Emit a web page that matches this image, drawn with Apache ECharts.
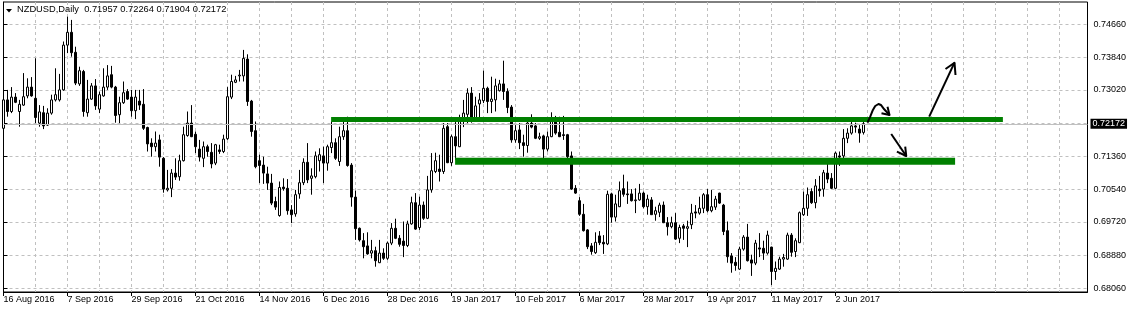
<!DOCTYPE html>
<html>
<head>
<meta charset="utf-8">
<script src="https://cdn.jsdelivr.net/npm/echarts@6/dist/echarts.min.js"></script>
<style>
html,body{margin:0;padding:0;background:#fff;}
#chart{width:1131px;height:312px;}
</style>
</head>
<body>
<div id="chart"></div>
<script>
// ---- data ----
const symbolTitle = 'NZDUSD,Daily';
const firstDate = '2016-08-16';
const totalSlots = 272; // bars + empty space on the right

const opens = [0.7206,0.7277,0.7248,0.7284,0.7248,0.7264,0.7287,0.7309,0.7281,0.7219,0.7245,0.7214,0.7244,0.7277,0.7277,0.7302,0.7414,0.7446,0.7396,0.7317,
0.7348,0.7245,0.7279,0.7312,0.7254,0.7287,0.7309,0.7340,0.7309,0.7240,0.7270,0.7298,0.7284,0.7250,0.7274,0.7266,0.7208,0.7169,0.7160,0.7177,
0.7131,0.7052,0.7056,0.7094,0.7085,0.7125,0.7188,0.7219,0.7191,0.7154,0.7131,0.7160,0.7146,0.7119,0.7152,0.7148,0.7180,0.7284,0.7321,0.7337,
0.7337,0.7379,0.7274,0.7200,0.7125,0.7114,0.7092,0.7069,0.7023,0.6988,0.7059,0.7056,0.7002,0.6992,0.7042,0.7070,0.7121,0.7081,0.7085,0.7125,
0.7137,0.7119,0.7158,0.7170,0.7123,0.7185,0.7200,0.7114,0.7034,0.6956,0.6925,0.6912,0.6894,0.6900,0.6870,0.6894,0.6881,0.6919,0.6956,0.6931,
0.6924,0.6913,0.6967,0.7020,0.6958,0.7014,0.6981,0.7052,0.7098,0.7104,0.7098,0.7210,0.7120,0.7185,0.7160,0.7227,0.7241,0.7294,0.7225,0.7267,
0.7275,0.7306,0.7273,0.7277,0.7300,0.7317,0.7298,0.7259,0.7177,0.7202,0.7170,0.7163,0.7219,0.7212,0.7181,0.7187,0.7154,0.7185,0.7227,0.7196,
0.7190,0.7190,0.7137,0.7056,0.7025,0.6991,0.6952,0.6912,0.6895,0.6937,0.6921,0.6917,0.7042,0.6984,0.7010,0.7055,0.7042,0.7042,0.7025,0.7027,
0.7044,0.7010,0.7027,0.6991,0.6996,0.7014,0.6970,0.6960,0.6970,0.6931,0.6962,0.6956,0.6965,0.6997,0.6994,0.7006,0.7040,0.7000,0.7009,0.7044,
0.7014,0.6950,0.6887,0.6871,0.6854,0.6904,0.6934,0.6877,0.6869,0.6907,0.6906,0.6894,0.6909,0.6848,0.6854,0.6879,0.6879,0.6939,0.6898,0.6920,
0.6990,0.7006,0.7048,0.7020,0.7054,0.7054,0.7094,0.7081,0.7056,0.7137,0.7137,0.7181,0.7194,0.7212,0.7204,0.71957];

const highs = [0.7302,0.7302,0.7309,0.7294,0.7277,0.7344,0.7331,0.7334,0.7381,0.7264,0.7262,0.7256,0.7290,0.7356,0.7342,0.7423,0.7485,0.7477,0.7410,0.7360,
0.7352,0.7327,0.7319,0.7329,0.7298,0.7356,0.7364,0.7362,0.7312,0.7285,0.7323,0.7304,0.7302,0.7302,0.7302,0.7304,0.7210,0.7181,0.7198,0.7190,
0.7134,0.7102,0.7104,0.7131,0.7140,0.7210,0.7248,0.7264,0.7198,0.7177,0.7173,0.7165,0.7169,0.7167,0.7165,0.7190,0.7309,0.7340,0.7337,0.7352,
0.7402,0.7391,0.7277,0.7223,0.7140,0.7135,0.7110,0.7092,0.7035,0.7073,0.7081,0.7079,0.7014,0.7052,0.7102,0.7131,0.7169,0.7106,0.7148,0.7156,
0.7160,0.7165,0.7223,0.7181,0.7210,0.7223,0.7235,0.7119,0.7050,0.6958,0.6944,0.6946,0.6927,0.6910,0.6927,0.6906,0.6923,0.6969,0.6980,0.6939,
0.6973,0.6975,0.7035,0.7044,0.7035,0.7023,0.7087,0.7144,0.7145,0.7140,0.7219,0.7219,0.7190,0.7225,0.7240,0.7277,0.7306,0.7309,0.7285,0.7294,
0.7350,0.7310,0.7335,0.7330,0.7327,0.7375,0.7306,0.7264,0.7214,0.7219,0.7190,0.7223,0.7241,0.7219,0.7195,0.7190,0.7198,0.7246,0.7237,0.7235,
0.7237,0.7192,0.7148,0.7064,0.7034,0.7017,0.6954,0.6919,0.6946,0.6949,0.6939,0.7050,0.7045,0.7040,0.7073,0.7090,0.7073,0.7054,0.7056,0.7067,
0.7048,0.7040,0.7034,0.7010,0.7020,0.7023,0.6984,0.6985,0.6994,0.6965,0.6967,0.6975,0.7017,0.7014,0.7035,0.7044,0.7054,0.7052,0.7037,0.7045,
0.7017,0.6973,0.6894,0.6884,0.6910,0.6939,0.6967,0.6890,0.6927,0.6944,0.6925,0.6950,0.6910,0.6873,0.6885,0.6892,0.6945,0.6944,0.6931,0.6998,
0.7048,0.7058,0.7056,0.7079,0.7087,0.7102,0.7121,0.7094,0.7148,0.7148,0.7204,0.7206,0.7223,0.7220,0.7217,0.72264];

const lows = [0.7198,0.7235,0.7244,0.7269,0.7210,0.7262,0.7281,0.7285,0.7219,0.7210,0.7204,0.7212,0.7240,0.7273,0.7273,0.7300,0.7394,0.7385,0.7314,0.7312,
0.7235,0.7235,0.7277,0.7252,0.7244,0.7285,0.7302,0.7306,0.7220,0.7219,0.7267,0.7277,0.7235,0.7229,0.7252,0.7202,0.7148,0.7135,0.7148,0.7110,
0.7045,0.7048,0.7034,0.7077,0.7075,0.7123,0.7185,0.7184,0.7144,0.7123,0.7109,0.7135,0.7106,0.7114,0.7142,0.7144,0.7177,0.7279,0.7319,0.7323,
0.7323,0.7262,0.7185,0.7106,0.7069,0.7067,0.7052,0.7014,0.7002,0.6985,0.7050,0.6990,0.6969,0.6985,0.7030,0.7064,0.7069,0.7040,0.7081,0.7098,
0.7069,0.7100,0.7144,0.7127,0.7112,0.7177,0.7110,0.7010,0.6927,0.6923,0.6881,0.6890,0.6881,0.6860,0.6869,0.6877,0.6877,0.6914,0.6929,0.6910,
0.6884,0.6909,0.6965,0.6952,0.6952,0.6977,0.6979,0.7045,0.7094,0.7073,0.7092,0.7119,0.7112,0.7127,0.7159,0.7209,0.7219,0.7220,0.7223,0.7231,
0.7269,0.7244,0.7244,0.7248,0.7298,0.7277,0.7244,0.7170,0.7170,0.7154,0.7135,0.7145,0.7206,0.7179,0.7177,0.7129,0.7148,0.7184,0.7190,0.7184,
0.7177,0.7120,0.7052,0.7042,0.6987,0.6948,0.6904,0.6890,0.6892,0.6914,0.6892,0.6914,0.6970,0.6973,0.7009,0.7035,0.7017,0.7023,0.6994,0.7025,
0.7006,0.6990,0.6990,0.6975,0.6984,0.6969,0.6938,0.6956,0.6927,0.6919,0.6927,0.6909,0.6954,0.6981,0.6990,0.6994,0.6996,0.6996,0.7002,0.7017,
0.6939,0.6870,0.6845,0.6850,0.6852,0.6900,0.6873,0.6837,0.6864,0.6884,0.6877,0.6890,0.6814,0.6827,0.6852,0.6860,0.6877,0.6885,0.6884,0.6919,
0.6987,0.6987,0.7017,0.7006,0.7035,0.7035,0.7069,0.7054,0.7054,0.7112,0.7123,0.7169,0.7190,0.7195,0.7170,0.71904];

const closes = [0.7277,0.7248,0.7284,0.7271,0.7266,0.7285,0.7309,0.7287,0.7233,0.7247,0.7212,0.7244,0.7277,0.7290,0.7302,0.7414,0.7446,0.7395,0.7319,0.7350,
0.7248,0.7279,0.7312,0.7262,0.7290,0.7309,0.7337,0.7309,0.7238,0.7270,0.7295,0.7279,0.7250,0.7284,0.7264,0.7206,0.7167,0.7160,0.7169,0.7134,
0.7054,0.7056,0.7094,0.7084,0.7125,0.7190,0.7219,0.7185,0.7160,0.7134,0.7160,0.7148,0.7117,0.7165,0.7148,0.7179,0.7285,0.7323,0.7327,0.7339,
0.7381,0.7273,0.7198,0.7110,0.7113,0.7094,0.7069,0.7019,0.7009,0.7058,0.7055,0.7000,0.6990,0.7040,0.7070,0.7121,0.7077,0.7087,0.7137,0.7140,
0.7119,0.7160,0.7170,0.7131,0.7185,0.7200,0.7113,0.7034,0.6955,0.6927,0.6910,0.6892,0.6900,0.6875,0.6894,0.6881,0.6919,0.6956,0.6931,0.6916,
0.6913,0.6967,0.7020,0.6954,0.7014,0.6981,0.7052,0.7100,0.7125,0.7098,0.7206,0.7120,0.7185,0.7162,0.7227,0.7244,0.7294,0.7225,0.7262,0.7277,
0.7306,0.7273,0.7279,0.7312,0.7317,0.7298,0.7258,0.7177,0.7200,0.7170,0.7163,0.7219,0.7209,0.7181,0.7185,0.7154,0.7185,0.7225,0.7194,0.7185,
0.7188,0.7135,0.7054,0.7044,0.6991,0.6950,0.6910,0.6898,0.6921,0.6920,0.6917,0.7041,0.6984,0.7017,0.7050,0.7041,0.7040,0.7025,0.7027,0.7044,
0.7010,0.7029,0.6990,0.7000,0.7014,0.6970,0.6960,0.6970,0.6929,0.6958,0.6956,0.6960,0.6994,0.6994,0.7006,0.7040,0.7000,0.7010,0.7029,0.7019,
0.6948,0.6885,0.6869,0.6863,0.6904,0.6934,0.6875,0.6869,0.6919,0.6904,0.6894,0.6939,0.6848,0.6856,0.6879,0.6883,0.6939,0.6896,0.6925,0.6995,
0.7006,0.7040,0.7020,0.7062,0.7050,0.7095,0.7079,0.7056,0.7144,0.7134,0.7181,0.7194,0.7212,0.7209,0.7194,0.72172];

// price-axis tick values (as printed on the right scale)
const yTickValues = [0.68060, 0.68880, 0.69720, 0.70540, 0.71360, 0.72180, 0.73020, 0.73840, 0.74660];
const yLabelValues = [0.68060, 0.68880, 0.69720, 0.70540, 0.71360, 0.73020, 0.73840, 0.74660];

// horizontal levels drawn on the chart: [startBar, endBar, price]
const level1 = [[81.9, 0.72283], [249.85, 0.72283]];
const level2 = [[112.9, 0.71235], [237.9, 0.71235]];

// hand-drawn arrows (bar position, price)
const arrowCurve = [[216.0,0.72200],[216.68,0.72350],[217.35,0.72518],[217.93,0.72618],[218.75,0.72668],[219.35,0.72643],[220.18,0.72535],[221.5,0.72393]];
const arrowCurveHead = [[219.5,0.72435],[221.5,0.72393],[221.0,0.72600]];
const arrowUp = [[231.43,0.72350],[237.75,0.73700]];
const arrowUpHead = [[235.5,0.73543],[237.75,0.73700],[238.0,0.73393]];
const arrowDown = [[221.93,0.71918],[225.68,0.71368]];
const arrowDownHead = [[223.35,0.71475],[225.68,0.71368],[225.43,0.71600]];

// ---- build ----
const months = ['Jan','Feb','Mar','Apr','May','Jun','Jul','Aug','Sep','Oct','Nov','Dec'];
const categories = [];
(function(){
  const p = firstDate.split('-').map(Number);
  let t = Date.UTC(p[0], p[1]-1, p[2]);
  while (categories.length < totalSlots) {
    const d = new Date(t);
    const wd = d.getUTCDay();
    if (wd !== 0 && wd !== 6) categories.push(d.getUTCDate() + ' ' + months[d.getUTCMonth()] + ' ' + d.getUTCFullYear());
    t += 86400000;
  }
})();
const lastIndex = closes.length - 1;
const ohlc = opens.map((o, i) => [o, closes[i], lows[i], highs[i]]);
const lastClose = closes[lastIndex];

const FONT = 'Liberation Sans, Arial, sans-serif';
const GRID_COLOR = '#c0c0c0';

const chart = echarts.init(document.getElementById('chart'), null, {renderer: 'canvas'});

function lineSeries(data, color, width, z) {
  return {
    type: 'line', xAxisIndex: 1, yAxisIndex: 0, data: data,
    symbol: 'none', showSymbol: false, silent: true, animation: false, clip: false,
    lineStyle: {color: color, width: width, cap: 'butt', join: 'round'},
    z: z
  };
}

chart.setOption({
  animation: false,
  backgroundColor: '#ffffff',
  textStyle: {fontFamily: FONT},
  title: {
    text: symbolTitle + '  ' + [opens[lastIndex], highs[lastIndex], lows[lastIndex], closes[lastIndex]].map(v => v.toFixed(5)).join(' '),
    left: 17, top: 5, padding: 0,
    textStyle: {fontSize: 9.3, fontWeight: 'normal', color: '#000', fontFamily: FONT}
  },
  graphic: [{
    type: 'polygon', silent: true,
    shape: {points: [[6, 9], [12, 9], [9, 12.5]]},
    style: {fill: '#000'}
  }],
  grid: {left: 3.5, top: 2, width: 1084, height: 290, show: true, borderColor: '#000', borderWidth: 1, backgroundColor: '#fff'},
  xAxis: [{
    type: 'category', data: categories, boundaryGap: false,
    axisLine: {show: true, lineStyle: {color: '#000', width: 1}},
    axisTick: {show: true, length: 4, lineStyle: {color: '#000'},
      interval: (idx) => idx % 16 === 0 && idx <= lastIndex},
    axisLabel: {show: true, interval: 15, align: 'left', margin: 3, fontSize: 9, color: '#000', fontFamily: FONT,
      formatter: (val, idx) => (idx <= lastIndex ? val : '')},
    splitLine: {show: true, interval: 7, lineStyle: {color: GRID_COLOR, type: [3, 3], width: 1}}
  }, {
    type: 'value', min: 0, max: totalSlots - 1, show: false, gridIndex: 0,
    splitLine: {show: false}
  }],
  yAxis: [{
    type: 'value', position: 'right', min: 0.679675, max: 0.752175, scale: true,
    axisLine: {show: true, lineStyle: {color: '#000'}},
    axisTick: {show: true, length: 4, customValues: yTickValues, lineStyle: {color: '#000'}},
    axisLabel: {show: true, customValues: yLabelValues, margin: 6, fontSize: 9, color: '#000', fontFamily: FONT,
      formatter: (v) => v.toFixed(5)},
    splitLine: {show: true, lineStyle: {color: GRID_COLOR, type: [3, 3], width: 1}}
  }],
  series: [
    {
      type: 'candlestick', xAxisIndex: 0, yAxisIndex: 0, data: ohlc, barWidth: 2,
      silent: true, z: 3,
      itemStyle: {color: '#ffffff', color0: '#000000', borderColor: '#000000', borderColor0: '#000000', borderWidth: 1},
      markLine: {
        silent: true, symbol: 'none', animation: false, precision: 5,
        lineStyle: {color: '#c0c0c0', type: 'solid', width: 1},
        label: {show: true, position: 'end', distance: 3, formatter: () => lastClose.toFixed(5),
          backgroundColor: '#000', color: '#fff', fontSize: 9, fontFamily: FONT, padding: [1, 2, 0, 2]},
        data: [{yAxis: lastClose}]
      }
    },
    lineSeries(level1, '#008000', 5, 4),
    lineSeries(level2, '#008000', 7, 4),
    lineSeries(arrowCurve, '#000', 2, 5),
    lineSeries(arrowCurveHead, '#000', 2, 5),
    lineSeries(arrowUp, '#000', 2, 5),
    lineSeries(arrowUpHead, '#000', 2, 5),
    lineSeries(arrowDown, '#000', 2, 5),
    lineSeries(arrowDownHead, '#000', 2, 5)
  ]
});
</script>
</body>
</html>
